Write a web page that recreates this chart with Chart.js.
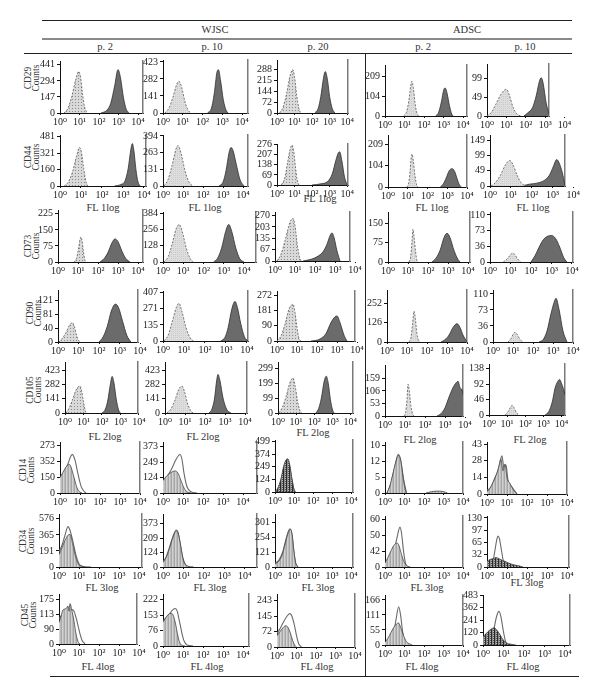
<!DOCTYPE html>
<html>
<head>
<meta charset="utf-8">
<script src="https://cdn.jsdelivr.net/npm/chart.js@4.4.1/dist/chart.umd.min.js"></script>
<style>
  body { margin: 0; background: #fff; font-family: "Liberation Serif", "DejaVu Serif", serif; color: #333; }
  #fig { position: relative; width: 600px; height: 697px; overflow: hidden; }
  .t { position: absolute; font-size: 10.5px; line-height: 12px; white-space: nowrap; transform: translate(-50%, -50%); }
  .hl { position: absolute; height: 0; border-top: 1px solid #222; }
  .vl { position: absolute; width: 0; border-left: 1px solid #222; }
  .ylab { position: absolute; font-size: 9.5px; line-height: 8px; text-align: center; white-space: nowrap;
          transform: translate(-50%, -50%) rotate(-90deg); }
  canvas { position: absolute; }
</style>
</head>
<body>
<div id="fig"></div>
<script>
// ---- labels ----
const groups      = ['WJSC', 'ADSC'];
const passages    = ['p. 2', 'p. 10', 'p. 20', 'p. 2', 'p. 10'];
const markers     = ['CD29', 'CD44', 'CD73', 'CD90', 'CD105', 'CD14', 'CD34', 'CD45'];
const xTickLabels = ['10⁰', '10¹', '10²', '10³', '10⁴'];
const channels    = { 1: 'FL 1log', 4: 'FL 2log', 6: 'FL 3log', 7: 'FL 4log' };

// ---- y tick labels per panel (bottom to top, as printed) ----
const cd29Ticks  = [['0','147','294','441'], ['0','141','282','423'], ['0','72','144','215','288'], ['0','104','209'], ['0','49','99']];
const cd44Ticks  = [['0','160','321','481'], ['0','131','263','394'], ['0','69','138','207','276'], ['0','104','209'], ['0','49','99','149']];
const cd73Ticks  = [['0','75','150','225'], ['0','128','256','384'], ['0','67','135','203','270'], ['0','75','150'], ['0','36','73','110']];
const cd90Ticks  = [['0','40','81','121'], ['0','135','271','407'], ['0','90','181','272'], ['0','126','252'], ['0','36','73','110']];
const cd105Ticks = [['0','141','282','423'], ['0','141','282','423'], ['0','99','199','299'], ['0','53','106','159'], ['0','46','92','138']];
const cd14Ticks  = [['0','150','352','273'], ['0','124','249','373'], ['0','124','249','374','499'], ['0','5','12','10'], ['0','14','28','43']];
const cd34Ticks  = [['0','191','365','576'], ['0','124','209','373'], ['0','121','254','301'], ['0','42','50','60'], ['0','32','65','97','130']];
const cd45Ticks  = [['0','90','113','175'], ['0','76','153','222'], ['0','72','145','243'], ['0','55','111','166'], ['0','120','241','362','483']];

// ---- y axis tops (counts) ----
const yTops = [
  [476, 439, 352, 269, 136],
  [499, 401, 280, 255, 166],
  [243, 392, 291, 195, 117],
  [151, 421, 299, 340, 119],
  [509, 509, 342, 216, 152],
  [295, 411, 515, 10.8, 45],
  [634, 456, 360, 64, 135],
  [198, 250, 278, 184, 483]
];

// ---- histograms: [log10 intensity, counts] ----
// control (isotype, light) and marker (dark) for the positive markers
const cd29Neg = [
  [[0.2,0],[0.4,40],[0.6,150],[0.8,300],[0.95,379],[1.05,330],[1.15,180],[1.25,60],[1.4,0]],
  [[0.1,0],[0.3,40],[0.5,130],[0.7,240],[0.8,263],[0.95,210],[1.1,100],[1.25,30],[1.4,0]],
  [[0.15,0],[0.35,40],[0.55,130],[0.75,250],[0.9,288],[1.0,240],[1.12,120],[1.25,30],[1.35,0]],
  [[0.95,0],[1.1,20],[1.22,80],[1.32,160],[1.38,183],[1.45,150],[1.55,60],[1.65,10],[1.75,0]],
  [[0,0],[0.2,8],[0.45,30],[0.7,55],[0.9,68],[1.0,70],[1.15,55],[1.35,22],[1.55,5],[1.75,0]]
];
const cd29Pos = [
  [[2.1,0],[2.4,25],[2.6,90],[2.8,250],[2.97,397],[3.1,320],[3.25,140],[3.4,30],[3.55,0]],
  [[2.25,0],[2.45,40],[2.6,170],[2.72,330],[2.8,359],[2.92,260],[3.05,110],[3.2,20],[3.3,0]],
  [[2.15,0],[2.35,30],[2.5,110],[2.65,230],[2.75,275],[2.88,220],[3.0,110],[3.15,30],[3.3,0]],
  [[2.6,0],[2.75,20],[2.9,80],[3.0,135],[3.08,148],[3.18,120],[3.3,55],[3.42,10],[3.5,0]],
  [[1.9,0],[2.1,8],[2.35,22],[2.55,55],[2.7,90],[2.8,100],[2.9,85],[3.05,35],[3.2,5]]
];
const cd44Neg = [
  [[0.2,0],[0.4,40],[0.6,140],[0.8,300],[0.93,377],[1.03,320],[1.13,170],[1.23,50],[1.32,0]],
  [[0.05,0],[0.25,50],[0.45,160],[0.65,290],[0.75,318],[0.9,260],[1.1,120],[1.3,30],[1.5,0]],
  [[0.25,0],[0.45,50],[0.6,150],[0.75,245],[0.86,272],[0.95,230],[1.05,125],[1.15,35],[1.25,0]],
  [[0.95,0],[1.05,20],[1.12,80],[1.18,150],[1.22,161],[1.28,130],[1.36,60],[1.45,10],[1.52,0]],
  [[0.05,0],[0.25,10],[0.5,35],[0.75,70],[0.95,83],[1.1,70],[1.3,35],[1.5,10],[1.7,0]]
];
const cd44Pos = [
  [[2.6,0],[2.9,15],[3.1,50],[3.25,170],[3.38,360],[3.45,415],[3.52,350],[3.62,160],[3.72,40],[3.82,0]],
  [[2.8,0],[3.0,30],[3.15,120],[3.3,260],[3.4,303],[3.5,280],[3.65,180],[3.85,50],[4.05,0]],
  [[2.0,0],[2.5,8],[2.9,25],[3.15,75],[3.35,165],[3.5,220],[3.58,226],[3.7,165],[3.85,55],[4.0,0]],
  [[2.65,0],[2.8,15],[2.95,45],[3.1,80],[3.25,90],[3.38,75],[3.5,40],[3.62,10],[3.72,0]],
  [[1.5,0],[1.9,6],[2.3,10],[2.6,18],[2.85,35],[3.05,65],[3.2,86],[3.35,70],[3.5,35],[3.6,0]]
];
const cd73Neg = [
  [[0.8,0],[0.92,15],[1.02,60],[1.1,105],[1.15,117],[1.2,100],[1.27,50],[1.34,10],[1.4,0]],
  [[0.05,0],[0.25,40],[0.45,140],[0.65,260],[0.8,294],[0.95,240],[1.15,110],[1.35,25],[1.5,0]],
  [[0.1,0],[0.3,40],[0.5,120],[0.75,230],[0.9,253],[1.0,210],[1.1,110],[1.22,25],[1.3,0]],
  [[1.05,0],[1.13,20],[1.2,80],[1.25,128],[1.3,100],[1.38,40],[1.45,5],[1.5,0]],
  [[0.65,0],[0.85,8],[1.0,17],[1.1,21],[1.2,18],[1.35,7],[1.5,0]]
];
const cd73Pos = [
  [[2.1,0],[2.3,15],[2.5,45],[2.7,90],[2.85,108],[3.0,95],[3.2,50],[3.4,15],[3.6,0]],
  [[2.5,0],[2.7,30],[2.9,110],[3.1,240],[3.25,294],[3.4,240],[3.6,110],[3.8,25],[4.0,0]],
  [[1.4,0],[1.8,10],[2.1,25],[2.4,55],[2.6,100],[2.75,150],[2.85,167],[2.95,140],[3.1,60],[3.25,0]],
  [[2.2,0],[2.4,15],[2.6,45],[2.8,95],[2.95,112],[3.1,95],[3.3,45],[3.5,10],[3.6,0]],
  [[2.0,0],[2.2,15],[2.4,35],[2.6,52],[2.8,60],[3.0,62],[3.2,55],[3.4,35],[3.6,10],[3.75,0]]
];
const cd90Neg = [
  [[0.05,0],[0.2,10],[0.4,28],[0.55,48],[0.7,56],[0.8,45],[0.9,20],[1.0,5],[1.1,0]],
  [[0.05,0],[0.25,50],[0.45,170],[0.65,290],[0.76,317],[0.9,250],[1.1,110],[1.3,25],[1.45,0]],
  [[0.0,0],[0.2,30],[0.4,100],[0.6,190],[0.8,220],[0.9,170],[1.0,80],[1.1,15],[1.2,0]],
  [[1.1,0],[1.2,30],[1.28,120],[1.35,202],[1.42,150],[1.5,50],[1.6,5],[1.65,0]],
  [[0.75,0],[0.9,8],[1.0,17],[1.1,22],[1.2,18],[1.35,6],[1.5,0]]
];
const cd90Pos = [
  [[2.0,0],[2.2,15],[2.4,45],[2.6,90],[2.8,110],[2.95,100],[3.15,60],[3.35,20],[3.55,0]],
  [[2.75,0],[2.95,30],[3.1,110],[3.28,270],[3.43,333],[3.55,280],[3.7,150],[3.88,35],[4.05,0]],
  [[1.7,0],[2.0,5],[2.2,15],[2.45,45],[2.7,110],[2.9,145],[3.0,150],[3.15,110],[3.35,35],[3.5,0]],
  [[2.7,0],[2.9,15],[3.1,45],[3.3,95],[3.5,120],[3.65,95],[3.8,45],[3.95,10],[4.0,0]],
  [[2.3,0],[2.5,5],[2.7,25],[2.9,65],[3.05,90],[3.15,100],[3.3,75],[3.5,25],[3.7,0]]
];
const cd105Neg = [
  [[0.05,0],[0.2,40],[0.4,130],[0.6,230],[0.8,269],[0.9,220],[1.0,110],[1.1,20],[1.15,0]],
  [[0.1,0],[0.3,40],[0.5,130],[0.7,240],[0.85,269],[0.98,210],[1.12,100],[1.28,25],[1.4,0]],
  [[0.05,0],[0.25,40],[0.45,110],[0.65,200],[0.83,234],[0.95,180],[1.08,80],[1.2,20],[1.3,0]],
  [[0.95,0],[1.03,15],[1.1,70],[1.15,134],[1.21,110],[1.3,40],[1.4,5],[1.45,0]],
  [[0.9,0],[1.05,10],[1.18,22],[1.28,29],[1.38,22],[1.5,8],[1.65,0]]
];
const cd105Pos = [
  [[2.0,0],[2.15,25],[2.3,110],[2.45,280],[2.55,365],[2.65,300],[2.78,130],[2.9,30],[3.0,0]],
  [[2.2,0],[2.35,40],[2.48,150],[2.58,320],[2.65,385],[2.75,320],[2.9,150],[3.1,30],[3.3,0]],
  [[2.1,0],[2.25,30],[2.4,100],[2.55,210],[2.67,247],[2.78,200],[2.9,90],[3.02,20],[3.1,0]],
  [[2.6,0],[2.8,10],[3.0,35],[3.2,80],[3.4,120],[3.55,140],[3.65,147],[3.75,120],[3.85,110],[3.9,90]],
  [[3.1,0],[3.3,10],[3.5,40],[3.65,80],[3.8,100],[3.9,106],[4.0,95],[4.1,80],[4.2,60]]
];
// negative markers: filled histogram and outline histogram
const cd14Fill = [
  [[0,90],[0.15,120],[0.3,150],[0.45,167],[0.55,150],[0.7,90],[0.85,30],[1.0,5],[1.1,0]],
  [[0,100],[0.2,140],[0.4,165],[0.6,178],[0.75,160],[0.9,100],[1.05,40],[1.2,10],[1.4,0]],
  [[0,0],[0.15,40],[0.3,120],[0.45,250],[0.6,320],[0.68,324],[0.78,260],[0.9,120],[1.0,20],[1.05,0]],
  [[0.1,0],[0.25,1.5],[0.4,4],[0.55,6.5],[0.7,8],[0.8,7],[0.92,3.5],[1.02,1],[1.1,0],[1.5,null],[2.1,0],[2.4,0.3],[2.7,0.4],[3.0,0.3],[3.2,0]],
  [[0,2],[0.15,5],[0.3,10],[0.45,16],[0.6,24],[0.7,30],[0.8,20],[0.9,26],[1.0,14],[1.15,9],[1.3,4],[1.5,0]]
];
const cd14Line = [
  [[0,75],[0.2,110],[0.4,170],[0.55,215],[0.62,222],[0.75,190],[0.9,110],[1.05,40],[1.2,10],[1.3,0]],
  [[0,80],[0.2,130],[0.45,200],[0.65,270],[0.85,310],[0.95,270],[1.05,160],[1.2,50],[1.4,10],[1.7,0]],
  [[0.05,0],[0.2,50],[0.35,140],[0.5,270],[0.65,330],[0.75,280],[0.88,130],[1.0,25],[1.08,0]],
  [[0.1,0],[0.3,2],[0.5,5.5],[0.68,8.2],[0.8,7],[0.95,3],[1.1,0]],
  [[0,3],[0.2,6],[0.4,14],[0.55,20],[0.65,28],[0.75,33],[0.85,22],[0.95,25],[1.05,12],[1.25,6],[1.5,0]]
];
const cd34Fill = [
  [[0,150],[0.15,230],[0.3,320],[0.45,380],[0.55,390],[0.68,280],[0.82,130],[0.95,40],[1.1,10],[1.6,0]],
  [[0,40],[0.15,80],[0.3,150],[0.5,260],[0.65,310],[0.72,300],[0.85,200],[0.95,90],[1.05,30],[1.2,8],[1.5,0]],
  [[0,20],[0.2,40],[0.4,90],[0.6,190],[0.75,250],[0.82,255],[0.92,200],[1.0,100],[1.08,30],[1.2,0]],
  [[0,5],[0.15,12],[0.3,20],[0.45,27],[0.6,30],[0.7,28],[0.82,18],[0.95,8],[1.1,2],[1.3,0]],
  [[0,15],[0.15,20],[0.3,22],[0.45,25],[0.6,22],[0.75,18],[0.9,15],[1.05,11],[1.2,8],[1.4,5],[1.6,3],[1.8,0]]
];
const cd34Line = [
  [[0,180],[0.15,260],[0.3,380],[0.45,483],[0.55,440],[0.7,300],[0.85,140],[1.0,40],[1.15,10],[1.3,0]],
  [[0,45],[0.15,85],[0.3,160],[0.5,270],[0.65,318],[0.75,290],[0.85,190],[0.97,80],[1.1,20],[1.3,0]],
  [[0,25],[0.2,45],[0.4,100],[0.6,200],[0.78,260],[0.88,230],[0.98,120],[1.08,30],[1.2,0]],
  [[0.15,0],[0.3,6],[0.45,18],[0.6,35],[0.77,50],[0.85,42],[0.95,20],[1.05,5],[1.15,0]],
  [[0.2,0],[0.3,15],[0.4,45],[0.5,75],[0.55,82],[0.62,75],[0.72,45],[0.82,15],[0.92,0]]
];
const cd45Fill = [
  [[0,85],[0.1,110],[0.2,135],[0.35,140],[0.45,150],[0.5,130],[0.55,160],[0.65,130],[0.75,90],[0.85,40],[0.95,10],[1.05,0]],
  [[0,115],[0.1,130],[0.25,150],[0.4,157],[0.5,150],[0.62,110],[0.72,60],[0.82,20],[0.92,5],[1.1,0]],
  [[0,60],[0.15,80],[0.3,100],[0.45,112],[0.55,105],[0.68,75],[0.8,35],[0.9,10],[1.0,0]],
  [[0,10],[0.15,25],[0.3,45],[0.45,65],[0.6,78],[0.7,81],[0.8,65],[0.95,35],[1.1,12],[1.3,3],[1.4,0]],
  [[0,80],[0.15,110],[0.3,140],[0.45,160],[0.55,167],[0.65,150],[0.8,110],[0.95,60],[1.1,25],[1.3,10],[1.6,0]]
];
const cd45Line = [
  [[0,100],[0.15,115],[0.3,125],[0.5,130],[0.65,136],[0.75,130],[0.9,90],[1.05,40],[1.15,15],[1.3,0]],
  [[0,120],[0.15,135],[0.3,150],[0.45,170],[0.6,180],[0.7,170],[0.82,120],[0.95,60],[1.05,25],[1.2,5],[1.5,0]],
  [[0,70],[0.15,95],[0.3,125],[0.5,160],[0.65,175],[0.75,165],[0.88,120],[1.0,60],[1.1,20],[1.25,0]],
  [[0.25,0],[0.35,15],[0.45,45],[0.58,100],[0.7,141],[0.8,110],[0.9,50],[1.0,15],[1.1,0]],
  [[0.35,0],[0.45,60],[0.55,170],[0.67,280],[0.78,325],[0.88,270],[0.98,150],[1.08,50],[1.18,0]]
];

const rows = [
  { ticks: cd29Ticks,  a: cd29Neg,  b: cd29Pos,  neg: false },
  { ticks: cd44Ticks,  a: cd44Neg,  b: cd44Pos,  neg: false },
  { ticks: cd73Ticks,  a: cd73Neg,  b: cd73Pos,  neg: false },
  { ticks: cd90Ticks,  a: cd90Neg,  b: cd90Pos,  neg: false },
  { ticks: cd105Ticks, a: cd105Neg, b: cd105Pos, neg: false },
  { ticks: cd14Ticks,  a: cd14Fill, b: cd14Line, neg: true },
  { ticks: cd34Ticks,  a: cd34Fill, b: cd34Line, neg: true },
  { ticks: cd45Ticks,  a: cd45Fill, b: cd45Line, neg: true }
];

// ---- layout: plot box [left, top, right, bottom, x value at right edge] ----
const boxes = [
  [[60,59,143,113,4.25], [163,58,248,113,4.3], [277,58,348,113,4.05], [385,63,467,116,4.2], [487,62,549,116,3.2]],
  [[60,133,146,186,4.1], [163,133,248,186,4.25], [277,142,348,185,4.05], [388,133,467,187,4.0], [490,133,565,186,3.6]],
  [[58,208,143,262,4.25], [163,210,256,262,4.6], [275,210,350,261,3.75], [388,210,470,262,4.1], [490,210,573,262,4.05]],
  [[58,288,138,342,3.9], [163,289,248,341,4.05], [277,289,355,341,3.9], [387,288,467,342,4.0], [493,288,573,342,4.0]],
  [[65,360,138,413,3.95], [165,360,247,413,4.1], [278,360,353,413,4.15], [385,363,463,416,3.9], [489,362,565,415,4.2]],
  [[60,440,140,493,4.0], [163,440,257,493,4.7], [275,438,353,492,4.1], [385,440,463,493,4.0], [487,440,567,494,4.0]],
  [[59,512,142,567,4.15], [163,512,257,567,4.6], [275,512,353,567,4.1], [385,514,463,567,4.0], [487,514,569,567,4.1]],
  [[59,592,137,644,3.9], [163,592,249,646,4.3], [277,592,355,647,4.0], [385,593,463,645,4.0], [483,593,570,645,4.25]]
];
const markerPos  = [[32,78],[32,157],[32,246],[34,313],[34,390],[27,470],[27,541],[29,615]];
const channelPos = {
  1: [[103,208],[205,208],[320,199],[432,208],[533,208]],
  4: [[105,437],[203,437],[313,433],[420,440],[530,440]],
  6: [[102,588],[210,588],[318,588],[427,588],[527,583]],
  7: [[98,667],[207,667],[317,667],[422,667],[523,667]]
};

const fig = document.getElementById('fig');
Chart.defaults.font.family = '"Liberation Serif", "DejaVu Serif", serif';
Chart.defaults.color = '#222';

function add(cls, css, html) {
  const d = document.createElement('div');
  d.className = cls; d.style.cssText = css;
  if (html) d.innerHTML = html;
  fig.appendChild(d);
}

// header rules and titles
add('hl', 'left:42px;top:20px;width:530px');
add('hl', 'left:42px;top:38px;width:530px;border-top:2px solid #8a8a8a');
add('hl', 'left:24px;top:53px;width:548px');
add('vl', 'left:365px;top:53px;height:624px');
add('hl', 'left:50px;top:676px;width:529px');
add('t', 'left:215px;top:30px', groups[0]);
add('t', 'left:467px;top:30px', groups[1]);
[105, 212, 318, 423, 525].forEach((x, i) => add('t', `left:${x}px;top:47px`, passages[i]));
markers.forEach((m, r) => add('ylab', `left:${markerPos[r][0]}px;top:${markerPos[r][1]}px`, `${m}<br>Counts`));
Object.keys(channels).forEach(r => channelPos[r].forEach(([x, y]) => add('t', `left:${x}px;top:${y}px`, channels[r])));

// fill textures
function pattern(w, h, paint) {
  const c = document.createElement('canvas'); c.width = w; c.height = h;
  const g = c.getContext('2d'); paint(g);
  return g.createPattern(c, 'repeat');
}
const dotted = pattern(3, 3, g => { g.fillStyle = '#d9d9d9'; g.fillRect(0, 0, 3, 3); g.fillStyle = '#8c8c8c'; g.fillRect(1, 1, 1, 1); });
const light  = pattern(2, 2, g => { g.fillStyle = '#dedede'; g.fillRect(0, 0, 2, 2); g.fillStyle = '#cacaca'; g.fillRect(0, 0, 1, 1); });
const stripe = pattern(3, 1, g => { g.fillStyle = '#a6a6a6'; g.fillRect(0, 0, 1, 1); g.fillStyle = '#d2d2d2'; g.fillRect(1, 0, 1, 1); g.fillStyle = '#bcbcbc'; g.fillRect(2, 0, 1, 1); });
const darkStripe = pattern(3, 2, g => { g.fillStyle = '#2a2a2a'; g.fillRect(0, 0, 1, 2); g.fillStyle = '#8a8a8a'; g.fillRect(1, 0, 1, 2); g.fillStyle = '#b8b8b8'; g.fillRect(2, 0, 1, 1); g.fillStyle = '#555'; g.fillRect(2, 1, 1, 1); });

const pts = a => a.map(([x, y]) => ({ x, y }));
const tickFont = { size: 10, family: '"Liberation Serif", "DejaVu Serif", serif' };
const padL = 34, padT = 6, padR = 26, padB = 20;

function panel(r, c) {
  const [L, T, R, B, xmax] = boxes[r][c];
  const row = rows[r];
  const labels = row.ticks[c];
  const step = Number(labels[labels.length - 1]) / (labels.length - 1);

  const cv = document.createElement('canvas');
  cv.width = R - L + padL + padR; cv.height = B - T + padT + padB;
  cv.style.left = (L - padL) + 'px'; cv.style.top = (T - padT) + 'px';
  fig.appendChild(cv);

  const base = { pointRadius: 0, cubicInterpolationMode: 'monotone', spanGaps: false };
  let datasets;
  if (!row.neg) {
    datasets = [
      { ...base, data: pts(row.a[c]), fill: 'origin', backgroundColor: (c === 0 || c === 2) ? dotted : light,
        borderColor: '#555', borderWidth: 0.8, borderDash: [2, 1.5] },
      { ...base, data: pts(row.b[c]), fill: 'origin', backgroundColor: '#6b6b6b', borderColor: '#2e2e2e', borderWidth: 0.8 }
    ];
  } else {
    const dark = (r === 5 && c === 2) || (r >= 6 && c === 4);
    datasets = [
      { ...base, data: pts(row.a[c]), fill: 'origin', backgroundColor: dark ? darkStripe : stripe, borderColor: '#444', borderWidth: 0.8 },
      { ...base, data: pts(row.b[c]), fill: false, borderColor: '#6a6a6a', borderWidth: 1.1 }
    ];
  }

  new Chart(cv, {
    type: 'line',
    data: { datasets },
    options: {
      responsive: false, animation: false, devicePixelRatio: 1,
      layout: { padding: { left: 0, top: padT, right: padR, bottom: 0 } },
      plugins: { legend: { display: false }, tooltip: { enabled: false } },
      scales: {
        x: {
          type: 'linear', min: 0, max: xmax,
          afterFit: s => { s.height = padB; },
          afterBuildTicks: s => { s.ticks = [0, 1, 2, 3, 4].map(v => ({ value: v })); },
          ticks: { autoSkip: false, maxRotation: 0, padding: 1, font: tickFont, callback: v => xTickLabels[v] },
          grid: { drawOnChartArea: false, tickLength: 2, color: '#111' },
          border: { color: '#111', width: 1 }
        },
        y: {
          min: 0, max: yTops[r][c],
          afterFit: s => { s.width = padL; },
          afterBuildTicks: s => { s.ticks = labels.map((_, i) => ({ value: i * step })); },
          ticks: { autoSkip: false, padding: 2, font: tickFont, callback: (v, i) => labels[i] },
          grid: { drawOnChartArea: false, tickLength: 3, color: '#111' },
          border: { color: '#111', width: 1 }
        },
        y2: {
          position: 'right', min: 0, max: 1,
          afterFit: s => { s.width = 0; },
          ticks: { display: false },
          grid: { display: false, drawTicks: false },
          border: { display: true, color: '#7a7a7a', width: 1.5 }
        }
      }
    }
  });
}

for (let r = 0; r < rows.length; r++) for (let c = 0; c < 5; c++) panel(r, c);
</script>
</body>
</html>
